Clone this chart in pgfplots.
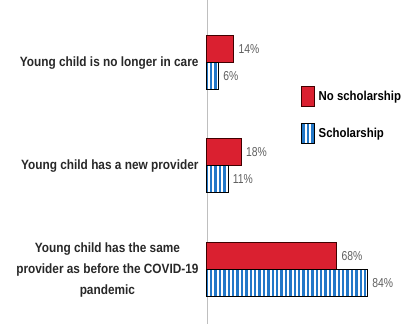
\documentclass[border=0pt]{standalone}
\usepackage{fontspec}
\setmainfont{Liberation Sans}
\newfontfamily\cond{Liberation Sans}[FakeStretch=0.88]
\newfontfamily\condn{Liberation Sans}[FakeStretch=0.8]
\usepackage{pgfplots}
\pgfplotsset{compat=1.18}
\usetikzlibrary{patterns.meta}
\definecolor{barred}{RGB}{218,32,48}
\definecolor{barblue}{RGB}{35,120,200}
\definecolor{valgrey}{RGB}{95,95,95}
\definecolor{labtext}{RGB}{40,40,40}
\pgfplotsset{tall legend/.style={legend image code/.code={\draw[##1] (0bp,-10bp) rectangle (13bp,10bp);}}}
\begin{document}
\begin{tikzpicture}[x=1bp,y=1bp]
\useasboundingbox (-207,0) rectangle (199,324);
\begin{axis}[
 at={(0,0)}, anchor=south west,
 scale only axis, width=191bp, height=324bp,
 xbar, xmin=0, xmax=100, ymin=0, ymax=324,
 bar width=27,
 axis x line=none, axis y line*=left,
 y axis line style={draw=black!25, line width=0.6bp, -},
 ytick={54,158,261},
 yticklabels={{Young child has the same\\provider as before the COVID-19\\pandemic},{Young child has a new provider},{Young child is no longer in care}},
 major tick length=0,
 yticklabel style={align=center, font=\cond\bfseries\fontsize{13.5}{21.5}\selectfont, text=labtext, xshift=-5bp},
 /pgf/number format/assume math mode=true,
 nodes near coords={\pgfmathprintnumber\pgfplotspointmeta\%},
 nodes near coords style={font=\condn\fontsize{13}{14}\selectfont, text=valgrey, anchor=west, xshift=1bp},
 legend style={at={(rel axis cs:0.492,0.735)}, anchor=north west, draw=none, fill=none, font=\cond\bfseries\fontsize{13}{14}\selectfont, row sep=16bp, inner sep=0pt, nodes={inner xsep=3.5bp}},
 legend cell align=left,
 clip=false,
]
\addplot[fill=barred, draw=black!75!red, line width=1bp, bar shift=13.5, tall legend]
  coordinates {(68,54) (18,158) (14,261)};
\addlegendentry{No scholarship}
\addplot[pattern={Lines[angle=90,distance=4.4bp,line width=2.4bp]}, pattern color=barblue, draw=black, line width=1bp, bar shift=-13.5, tall legend]
  coordinates {(84,54) (11,158) (6,261)};
\addlegendentry{Scholarship}
\end{axis}
\end{tikzpicture}
\end{document}
